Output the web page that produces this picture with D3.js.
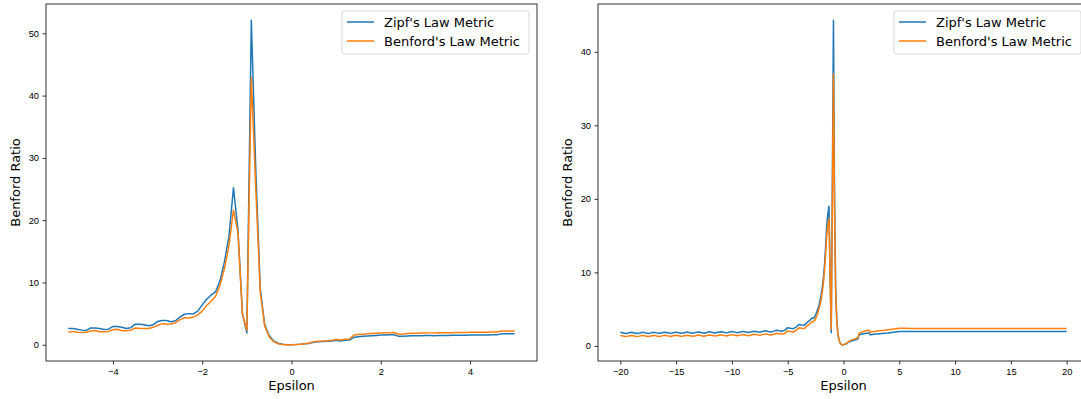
<!DOCTYPE html>
<html>
<head>
<meta charset="utf-8">
<script src="https://cdn.jsdelivr.net/npm/d3@7"></script>
<style>
  body { margin: 0; background: #fff; }
  svg { display: block; font-family: "DejaVu Sans", sans-serif; }
  .tick text { font-size: 9.3px; fill: #000; }
  .tick line { stroke: #000; stroke-width: 0.8; }
  .axis-label { font-size: 13px; fill: #000; }
  .legend-text { font-size: 13px; fill: #000; }
</style>
</head>
<body>
<div id="chart"></div>
<script>
const width = 1081, height = 399;
const zipfColor = "#1f77b4", benfordColor = "#ff7f0e";

// left panel: epsilon in [-5, 5], step 0.1
const leftEps = d3.range(-50, 51).map(i => i / 10);
const leftZipf = [
  2.6, 2.6, 2.5, 2.35, 2.3, 2.7, 2.7, 2.6, 2.45, 2.5,
  2.95, 2.95, 2.8, 2.6, 2.75, 3.3, 3.3, 3.2, 3.05, 3.2,
  3.75, 3.9, 3.9, 3.7, 3.85, 4.45, 4.9, 5.0, 4.95, 5.4,
  6.4, 7.3, 8.0, 8.5, 10.3, 13.4, 17.5, 25.2, 18.5, 5.0,
  1.9, 52.1, 28, 9.0, 3.2, 1.5, 0.6, 0.25, 0.1, 0.02,
  0.0, 0.03, 0.08, 0.15, 0.22, 0.42, 0.5, 0.52, 0.55, 0.62,
  0.72, 0.62, 0.72, 0.75, 1.22, 1.3, 1.35, 1.4, 1.45, 1.5,
  1.55, 1.58, 1.6, 1.62, 1.35, 1.35, 1.42, 1.45, 1.45, 1.46,
  1.47, 1.47, 1.46, 1.48, 1.49, 1.5, 1.51, 1.52, 1.53, 1.54,
  1.55, 1.56, 1.57, 1.58, 1.58, 1.59, 1.6, 1.75, 1.75, 1.75,
  1.75
];
const leftBenford = [
  2.0, 2.15, 2.0, 1.95, 2.0, 2.2, 2.3, 2.1, 2.1, 2.15,
  2.4, 2.5, 2.25, 2.25, 2.35, 2.7, 2.6, 2.6, 2.6, 2.8,
  3.1, 3.4, 3.3, 3.35, 3.55, 4.0, 4.35, 4.3, 4.45, 4.8,
  5.4, 6.3, 7.0, 7.8, 9.6, 12.3, 16.0, 21.6, 18.0, 5.0,
  2.3, 42.9, 25, 8.4, 3.0, 1.3, 0.5, 0.15, 0.04, 0.0,
  0.0, 0.05, 0.1, 0.18, 0.28, 0.5, 0.58, 0.62, 0.65, 0.72,
  0.85, 0.75, 0.88, 0.92, 1.55, 1.65, 1.7, 1.75, 1.8, 1.85,
  1.9, 1.92, 1.95, 1.97, 1.7, 1.72, 1.82, 1.85, 1.86, 1.88,
  1.9, 1.91, 1.91, 1.92, 1.93, 1.94, 1.95, 1.96, 1.97, 1.98,
  2.0, 2.0, 2.01, 2.02, 2.03, 2.04, 2.05, 2.2, 2.2, 2.2,
  2.2
];

// right panel: epsilon in [-20, 20]
const rightEps = [
  ...d3.range(-80, -12).map(i => i / 4),
  ...d3.range(-30, 30).map(i => i / 10),
  ...d3.range(6, 41).map(i => i / 2)
];
const rightZipf = [
  1.84, 1.76, 1.68, 1.76, 1.84, 1.76, 1.68, 1.76,
  1.85, 1.77, 1.69, 1.77, 1.85, 1.77, 1.69, 1.78,
  1.86, 1.78, 1.7, 1.79, 1.87, 1.79, 1.71, 1.8,
  1.88, 1.8, 1.72, 1.81, 1.89, 1.81, 1.73, 1.82,
  1.91, 1.83, 1.75, 1.84, 1.93, 1.85, 1.77, 1.86,
  1.95, 1.87, 1.79, 1.88, 1.97, 1.89, 1.81, 1.91,
  2.0, 1.92, 1.85, 1.95, 2.05, 1.97, 1.9, 2.01,
  2.13, 2.06, 2.0, 2.14, 2.48, 2.4, 2.34, 2.55,
  2.9, 2.85, 2.82, 3.2,
  3.5, 3.7, 3.8, 3.75, 3.9, 4.2, 4.6, 5.0, 5.5, 6.2,
  7.0, 8.0, 9.3, 11.0, 13.5, 16.5, 18.0, 19.0, 10, 1.8,
  22, 44.3, 20, 7.5, 3.5, 1.6, 0.8, 0.4, 0.2, 0.15,
  0.15, 0.2, 0.25, 0.3, 0.45, 0.55, 0.6, 0.65, 0.7, 0.75,
  0.8, 0.8, 0.9, 1.0, 1.5, 1.55, 1.6, 1.62, 1.65, 1.68,
  1.7, 1.72, 1.74, 1.75, 1.5, 1.52, 1.55, 1.57, 1.58, 1.6,
  1.62, 1.68, 1.75, 1.85, 1.95, 1.95, 1.94, 1.94, 1.94, 1.94,
  1.94, 1.94, 1.94, 1.94, 1.94, 1.94, 1.94, 1.94, 1.94, 1.94,
  1.94, 1.94, 1.94, 1.94, 1.94, 1.94, 1.94, 1.94, 1.94, 1.94,
  1.94, 1.94, 1.94, 1.94, 1.94
];
const rightBenford = [
  1.42, 1.34, 1.26, 1.34, 1.42, 1.34, 1.26, 1.34,
  1.43, 1.35, 1.27, 1.35, 1.43, 1.35, 1.27, 1.36,
  1.44, 1.36, 1.28, 1.37, 1.45, 1.37, 1.29, 1.38,
  1.46, 1.38, 1.3, 1.39, 1.47, 1.39, 1.31, 1.4,
  1.49, 1.41, 1.33, 1.42, 1.51, 1.43, 1.35, 1.44,
  1.53, 1.45, 1.37, 1.46, 1.55, 1.47, 1.39, 1.49,
  1.58, 1.5, 1.43, 1.53, 1.63, 1.55, 1.48, 1.59,
  1.71, 1.64, 1.58, 1.72, 2.03, 1.95, 1.89, 2.1,
  2.45, 2.4, 2.37, 2.75,
  3.0, 3.2, 3.3, 3.3, 3.4, 3.7, 4.1, 4.5, 5.0, 5.6,
  6.3, 7.3, 8.6, 10.2, 12.5, 15.0, 16.5, 17.3, 9, 2.3,
  19, 37.0, 17.5, 7, 3.3, 1.6, 0.8, 0.4, 0.2, 0.15,
  0.15, 0.22, 0.3, 0.38, 0.5, 0.62, 0.7, 0.78, 0.82, 0.88,
  0.95, 0.95, 1.05, 1.15, 1.7, 1.8, 1.85, 1.9, 1.95, 2.0,
  2.05, 2.08, 2.1, 2.12, 1.85, 1.88, 1.92, 1.95, 1.97, 2.0,
  2.02, 2.1, 2.2, 2.3, 2.4, 2.4, 2.38, 2.38, 2.38, 2.38,
  2.38, 2.38, 2.38, 2.38, 2.38, 2.38, 2.38, 2.38, 2.38, 2.38,
  2.38, 2.38, 2.38, 2.38, 2.38, 2.38, 2.38, 2.38, 2.38, 2.38,
  2.38, 2.38, 2.38, 2.38, 2.38
];

const leftXTicks = [-4, -2, 0, 2, 4];
const leftYTicks = [0, 10, 20, 30, 40, 50];
const rightXTicks = [-20, -15, -10, -5, 0, 5, 10, 15, 20];
const rightYTicks = [0, 10, 20, 30, 40];
const seriesNames = ["Zipf's Law Metric", "Benford's Law Metric"];

const svg = d3.select("#chart")
  .append("svg")
  .attr("width", width)
  .attr("height", height);

function padDomain(lo, hi) {
  const m = (hi - lo) * 0.05;
  return [lo - m, hi + m];
}

function drawPanel(p) {
  const { left, right, top, bottom, eps, zipf, benford, xTicks, yTicks } = p;

  const x = d3.scaleLinear()
    .domain(padDomain(d3.min(eps), d3.max(eps)))
    .range([left, right]);
  const yLo = Math.min(d3.min(zipf), d3.min(benford));
  const yHi = Math.max(d3.max(zipf), d3.max(benford));
  const y = d3.scaleLinear()
    .domain(padDomain(yLo, yHi))
    .range([bottom, top]);

  const g = svg.append("g");

  const xAxisG = g.append("g")
    .attr("transform", `translate(0,${bottom})`)
    .call(d3.axisBottom(x).tickValues(xTicks).tickSize(3.5).tickPadding(3.5));
  xAxisG.select(".domain").remove();
  xAxisG.selectAll("text").attr("font-family", null).attr("font-size", null);

  const yAxisG = g.append("g")
    .attr("transform", `translate(${left},0)`)
    .call(d3.axisLeft(y).tickValues(yTicks).tickSize(3.5).tickPadding(3.5));
  yAxisG.select(".domain").remove();
  yAxisG.selectAll("text").attr("font-family", null).attr("font-size", null);

  const line = d3.line()
    .x((d, i) => x(eps[i]))
    .y(d => y(d));

  g.append("path")
    .datum(zipf)
    .attr("fill", "none")
    .attr("stroke", zipfColor)
    .attr("stroke-width", 1.5)
    .attr("stroke-linejoin", "round")
    .attr("d", line);

  g.append("path")
    .datum(benford)
    .attr("fill", "none")
    .attr("stroke", benfordColor)
    .attr("stroke-width", 1.5)
    .attr("stroke-linejoin", "round")
    .attr("d", line);

  g.append("rect")
    .attr("x", left)
    .attr("y", top)
    .attr("width", right - left)
    .attr("height", bottom - top)
    .attr("fill", "none")
    .attr("stroke", "#000")
    .attr("stroke-width", 0.8);

  g.append("text")
    .attr("class", "axis-label")
    .attr("text-anchor", "middle")
    .attr("x", (left + right) / 2)
    .attr("y", 390)
    .text("Epsilon");

  g.append("text")
    .attr("class", "axis-label")
    .attr("text-anchor", "middle")
    .attr("transform", `translate(${left - 26},${(top + bottom) / 2}) rotate(-90)`)
    .text("Benford Ratio");

  // legend, upper right
  const lw = 187, lh = 43;
  const lx = right - 8 - lw, ly = top + 7;
  const legend = g.append("g").attr("transform", `translate(${lx},${ly})`);
  legend.append("rect")
    .attr("width", lw)
    .attr("height", lh)
    .attr("rx", 2.5)
    .attr("fill", "#fff")
    .attr("fill-opacity", 0.8)
    .attr("stroke", "#ccc")
    .attr("stroke-width", 0.8);

  const items = legend.selectAll("g.item")
    .data(seriesNames)
    .join("g")
    .attr("class", "item")
    .attr("transform", (d, i) => `translate(0,${11 + i * 19})`);
  items.append("line")
    .attr("x1", 5).attr("x2", 32)
    .attr("stroke", (d, i) => i === 0 ? zipfColor : benfordColor)
    .attr("stroke-width", 1.5);
  items.append("text")
    .attr("class", "legend-text")
    .attr("x", 42)
    .attr("dy", "0.35em")
    .text(d => d);
}

drawPanel({
  left: 46, right: 537, top: 4, bottom: 361,
  eps: leftEps, zipf: leftZipf, benford: leftBenford,
  xTicks: leftXTicks, yTicks: leftYTicks
});

drawPanel({
  left: 598, right: 1089, top: 4, bottom: 361,
  eps: rightEps, zipf: rightZipf, benford: rightBenford,
  xTicks: rightXTicks, yTicks: rightYTicks
});
</script>
</body>
</html>
